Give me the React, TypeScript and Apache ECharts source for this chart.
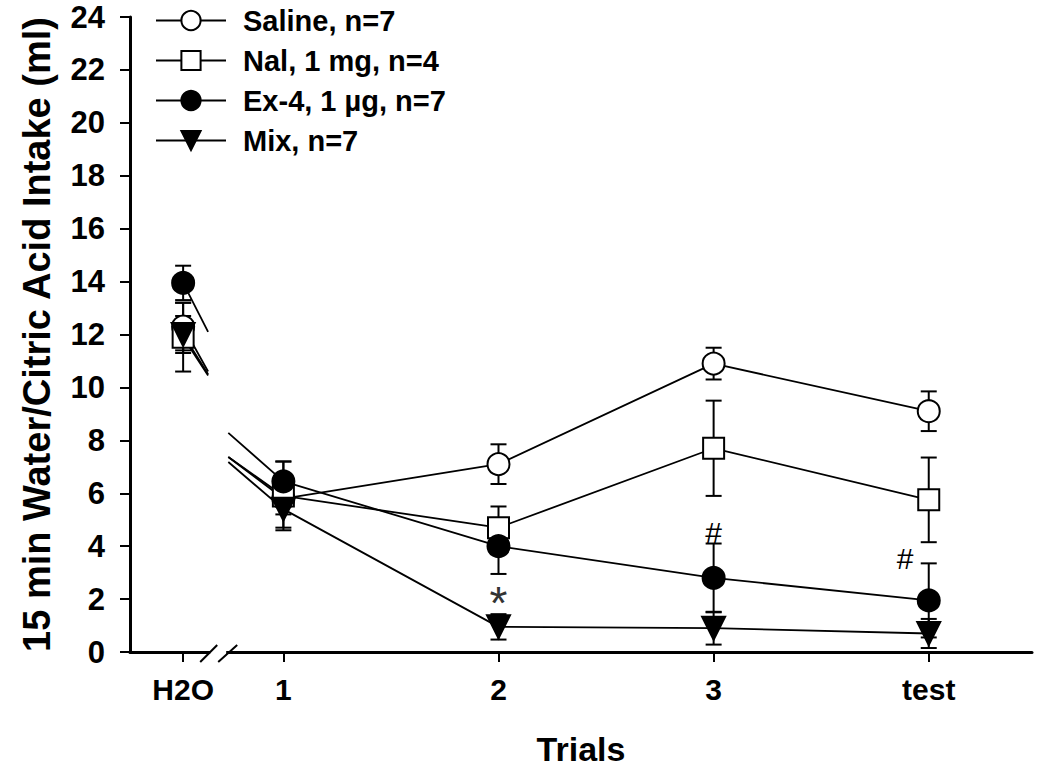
import React, { useEffect, useRef } from "react";
import * as echarts from "echarts";

// ---- data ----
const xPositions = [0.534, 1, 2, 3, 4];
const xLabels = ["H2O", "1", "2", "3", "test"];
const seriesNames = ["Saline, n=7", "Nal, 1 mg, n=4", "Ex-4, 1 µg, n=7", "Mix, n=7"];
const salineMean = [12.3, 5.8, 7.1, 10.9, 9.1];
const salineSem = [0.9, 0.6, 0.75, 0.6, 0.75];
const nalMean = [11.9, 5.9, 4.7, 7.7, 5.75];
const nalSem = [1.3, 1.3, 0.8, 1.8, 1.6];
const ex4Mean = [13.95, 6.45, 4.0, 2.8, 1.95];
const ex4Sem = [0.65, 0.75, 1.05, 1.3, 1.4];
const mixMean = [12.0, 5.4, 0.95, 0.9, 0.7];
const mixSem = [0.7, 0.7, 0.48, 0.62, 0.55];
// line fragments around the axis break
const stubX = 0.65;
const stubY = [10.6, 10.45, 12.1, 10.5];
const leadX = 0.744;
const leadY = [7.37, 7.37, 8.28, 7.18];
const breakX = 0.697;
// significance marks
const annotX = [2, 3, 3.89];
const annotY = [1.85, 4.5, 3.55];
const annotText = ["*", "#", "#"];

const FONT = "Liberation Sans, Arial, sans-serif";

export default function App() {
  const ref = useRef<HTMLDivElement>(null);
  useEffect(() => {
    document.body.style.margin = "0";
    if (!ref.current) return;
    const chart = echarts.init(ref.current, null, { renderer: "svg" });
    const means = [salineMean, nalMean, ex4Mean, mixMean];
    const sems = [salineSem, nalSem, ex4Sem, mixSem];
    const symbols = ["circle", "rect", "circle", "triangle"];
    const fills = ["#fff", "#fff", "#000", "#000"];
    const sizes = [22, 21, 22, 23];

    const lineSeries = means.map((m, i) => {
      const data: any[] = [];
      data.push({ value: [xPositions[0], m[0]] });
      data.push({ value: [stubX, stubY[i]], symbol: "none" });
      data.push({ value: [breakX, "-"] });
      data.push({ value: [leadX, leadY[i]], symbol: "none" });
      for (let k = 1; k < xPositions.length; k++) data.push({ value: [xPositions[k], m[k]] });
      return {
        name: seriesNames[i],
        type: "line",
        data,
        symbol: symbols[i],
        symbolSize: sizes[i],
        symbolRotate: i === 3 ? 180 : 0,
        showAllSymbol: true,
        connectNulls: false,
        lineStyle: { color: "#000", width: 1.8 },
        itemStyle: { color: fills[i], borderColor: "#000", borderWidth: 2, opacity: 1 },
        z: 3,
      };
    });

    const errData: number[][] = [];
    means.forEach((m, i) => {
      m.forEach((v, k) => {
        errData.push([xPositions[k], v - sems[i][k], v + sems[i][k]]);
      });
    });

    const errSeries = {
      type: "custom",
      z: 2,
      data: errData,
      encode: { x: 0, y: [1, 2] },
      renderItem: (params: any, api: any) => {
        const x = api.value(0);
        const lo = api.coord([x, api.value(1)]);
        const hi = api.coord([x, api.value(2)]);
        const w = 8;
        const st = { stroke: "#000", lineWidth: 2 };
        return {
          type: "group",
          children: [
            { type: "line", shape: { x1: hi[0], y1: hi[1], x2: lo[0], y2: lo[1] }, style: st },
            { type: "line", shape: { x1: hi[0] - w, y1: hi[1], x2: hi[0] + w, y2: hi[1] }, style: st },
            { type: "line", shape: { x1: lo[0] - w, y1: lo[1], x2: lo[0] + w, y2: lo[1] }, style: st },
          ],
        };
      },
    };

    const annotSeries = {
      type: "custom",
      z: 4,
      data: annotX.map((x, i) => [x, annotY[i], i]),
      encode: { x: 0, y: 1 },
      renderItem: (params: any, api: any) => {
        const p = api.coord([api.value(0), api.value(1)]);
        const t = annotText[api.value(2)];
        return {
          type: "text",
          x: p[0],
          y: p[1],
          style: {
            text: t,
            font: t === "*" ? `normal 46px ${FONT}` : `normal 30px ${FONT}`,
            fill: t === "*" ? "#333" : "#000",
            align: "center",
            verticalAlign: "middle",
          },
        };
      },
    };

    const breakSeries = {
      type: "custom",
      z: 10,
      clip: false,
      data: [[breakX, 0]],
      encode: { x: 0, y: 1 },
      renderItem: (params: any, api: any) => {
        const c = api.coord([api.value(0), api.value(1)]);
        const st = { stroke: "#000", lineWidth: 2 };
        return {
          type: "group",
          children: [
            { type: "rect", shape: { x: c[0] - 8, y: c[1] - 3, width: 16, height: 6 }, style: { fill: "#fff" } },
            { type: "line", shape: { x1: c[0] - 18, y1: c[1] + 10, x2: c[0] - 1, y2: c[1] - 7 }, style: st },
            { type: "line", shape: { x1: c[0], y1: c[1] + 10, x2: c[0] + 19, y2: c[1] - 7 }, style: st },
          ],
        };
      },
    };

    chart.setOption({
      animation: false,
      backgroundColor: "#fff",
      grid: { left: 130, right: 18, top: 17, bottom: 131, containLabel: false },
      legend: {
        data: seriesNames,
        orient: "vertical",
        left: 150,
        top: 0,
        itemWidth: 70,
        itemHeight: 24,
        itemGap: 9,
        textStyle: {
          fontFamily: FONT,
          fontWeight: "bold",
          fontSize: 29,
          color: "#000",
          lineHeight: 31,
          padding: [0, 0, 0, 12],
        },
      },
      xAxis: {
        type: "value",
        min: 0.287,
        max: 4.48,
        name: "Trials",
        nameLocation: "middle",
        nameGap: 80,
        nameTextStyle: { fontFamily: FONT, fontWeight: "bold", fontSize: 34, color: "#000" },
        axisLine: { show: true, onZero: false, lineStyle: { color: "#000", width: 3 } },
        axisTick: { show: true, length: 10, lineStyle: { color: "#000", width: 2 }, customValues: xPositions },
        axisLabel: {
          customValues: xPositions,
          margin: 22,
          fontFamily: FONT,
          fontWeight: "bold",
          fontSize: 30,
          color: "#000",
          formatter: (v: number) => {
            const idx = xPositions.findIndex((p) => Math.abs(p - v) < 1e-6);
            return idx >= 0 ? xLabels[idx] : "";
          },
        },
        splitLine: { show: false },
      },
      yAxis: {
        type: "value",
        min: 0,
        max: 24,
        interval: 2,
        name: "15 min Water/Citric Acid Intake (ml)",
        nameLocation: "middle",
        nameGap: 74,
        nameRotate: 90,
        nameTextStyle: { fontFamily: FONT, fontWeight: "bold", fontSize: 38, color: "#000" },
        axisLine: { show: true, lineStyle: { color: "#000", width: 3 } },
        axisTick: { show: true, length: 10, lineStyle: { color: "#000", width: 2 } },
        axisLabel: { margin: 25, fontFamily: FONT, fontWeight: "bold", fontSize: 31, color: "#000" },
        splitLine: { show: false },
      },
      series: [errSeries, ...lineSeries, annotSeries, breakSeries],
    });
    return () => chart.dispose();
  }, []);
  return <div ref={ref} style={{ width: 1050, height: 783 }} />;
}
